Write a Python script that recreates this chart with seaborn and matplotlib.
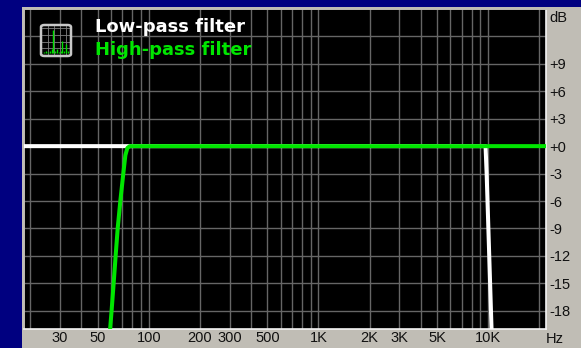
import matplotlib
matplotlib.use("Agg")
import matplotlib.pyplot as plt
from matplotlib.patches import Rectangle, FancyBboxPatch
import pandas as pd
import seaborn as sns

# ---- data ----
low_freq = [18.4, 9000, 9654, 9800, 10472, 10600]
low_db = [0, 0, 0, -3, -20, -21]
high_freq = [58.5, 59.2, 60.4, 62.1, 63.8, 65.6, 68.0, 70.8, 72.8, 74.8, 77.3, 21780]
high_db = [-21, -20, -18, -15, -12, -9, -6, -3, -1, -0.2, 0, 0]
x_grid = [20, 30, 40, 50, 60, 70, 80, 90, 100, 200, 300, 400, 500, 600, 700, 800, 900,
          1000, 2000, 3000, 4000, 5000, 6000, 7000, 8000, 9000, 10000, 20000]
x_labeled = [30, 50, 100, 200, 300, 500, 1000, 2000, 3000, 5000, 10000]
x_labels = ["30", "50", "100", "200", "300", "500", "1K", "2K", "3K", "5K", "10K"]
y_grid = [12, 9, 6, 3, 0, -3, -6, -9, -12, -15, -18]
y_labels = ["", "+9", "+6", "+3", "+0", "-3", "-6", "-9", "-12", "-15", "-18"]
series_names = ["Low-pass filter", "High-pass filter"]
series_colors = ["#ffffff", "#00e600"]
icon_x = [1, 2, 3, 4, 5, 5.6, 6.5, 7.5, 8.5, 9.5, 10.2, 11, 12, 12.8]
icon_y = [1.5, 2, 1.5, 2, 2.5, 11, 2, 2.5, 1.5, 2, 6.5, 2, 5, 2]

W, H = 581, 348
NAVY, PANEL, GRID = "#000080", "#c0bdb5", "#666666"

plt.rcParams["font.family"] = ["Liberation Sans", "DejaVu Sans"]
fig = plt.figure(figsize=(W / 100, H / 100), dpi=100, facecolor=NAVY)
fig.add_artist(Rectangle((22 / W, 0), 1, 1 - 7 / H, transform=fig.transFigure,
                         facecolor=PANEL, edgecolor="none", zorder=-5))

L, R, T, B = 24, 545.5, 9, 329
ax = fig.add_axes([L / W, 1 - B / H, (R - L) / W, (B - T) / H], facecolor="black")

df = pd.concat([
    pd.DataFrame({"f": low_freq, "dB": low_db, "s": series_names[0]}),
    pd.DataFrame({"f": high_freq, "dB": high_db, "s": series_names[1]}),
])
sns.lineplot(data=df, x="f", y="dB", hue="s", hue_order=series_names, palette=series_colors,
             estimator=None, sort=False, legend=False, linewidth=2.9, ax=ax, zorder=3)

ax.set_xscale("log")
ax.set_xlim(18.4, 21780)
ax.set_ylim(-20, 15.0)
ax.set_xlabel("")
ax.set_ylabel("")
ax.minorticks_off()
ax.set_xticks(x_grid, [""] * len(x_grid))
ax.set_xticks([], minor=True)
ax.set_yticks(y_grid, y_labels)
ax.grid(True, color=GRID, linewidth=1.0)
ax.set_axisbelow(True)
ax.yaxis.tick_right()
ax.tick_params(axis="both", length=0, labelsize=10.5, colors="#111111")
ax.tick_params(axis="y", pad=2.5)

trans = ax.get_xaxis_transform()
for f, lab in zip(x_labeled, x_labels):
    ax.text(f, -9 / (B - T), lab, transform=trans, ha="center", va="center",
            fontsize=10.5, color="#111111", clip_on=False)

for side, col, lw in [("left", PANEL, 1.4), ("top", PANEL, 1.4), ("right", "#f4f4f4", 1.2), ("bottom", "#f4f4f4", 1.2)]:
    ax.spines[side].set_color(col)
    ax.spines[side].set_linewidth(lw)

fig.text(549 / W, 1 - 18 / H, "dB", fontsize=10.5, color="#111111", ha="left", va="center")
fig.text(546 / W, 1 - 339 / H, "Hz", fontsize=10.5, color="#111111", ha="left", va="center")

# legend text
for name, col, yp in zip(series_names, series_colors, [27, 50]):
    fig.text(95 / W, 1 - yp / H, name, color=col, fontsize=13, fontweight="bold",
             family="DejaVu Sans", ha="left", va="center", zorder=5)

# analyser icon
iax = fig.add_axes([42 / W, 1 - 55 / H, 28 / W, 29 / H], facecolor="black")
iax.set_xlim(0, 14)
iax.set_ylim(0, 13)
iax.set_xticks([3, 6, 9, 12], [""] * 4)
iax.set_yticks([3, 6, 9, 12], [""] * 4)
iax.tick_params(length=0)
iax.grid(True, color="#808080", linewidth=0.6)
iax.vlines(icon_x, 0.8, icon_y, color="#00e000", linewidth=1.0, zorder=3)
for s in iax.spines.values():
    s.set_visible(False)
fig.add_artist(FancyBboxPatch((41 / W, 1 - 56 / H), 30 / W, 31 / H,
                              boxstyle="round,pad=0,rounding_size=0.006",
                              transform=fig.transFigure, facecolor="none",
                              edgecolor="#c8c8c8", linewidth=1.8, zorder=6))

fig.savefig("out.png", dpi=100, facecolor=NAVY)
